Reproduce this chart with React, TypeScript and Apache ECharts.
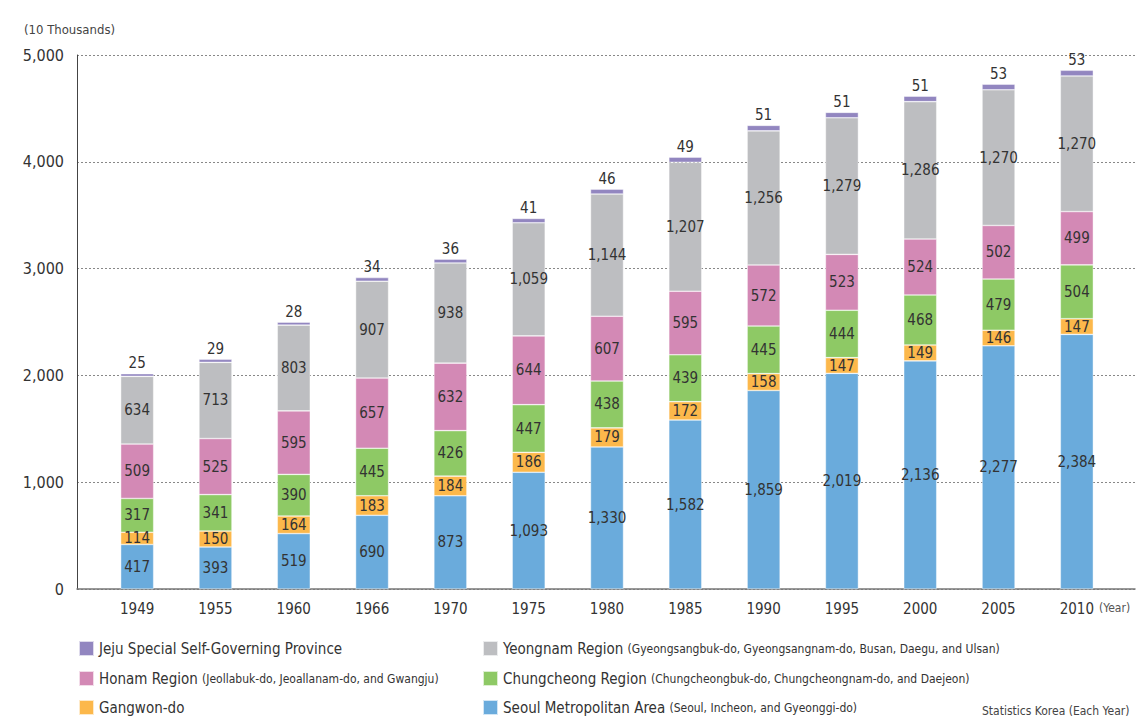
import React, { useEffect, useRef } from "react";
import * as echarts from "echarts";

const years = ["1949", "1955", "1960", "1966", "1970", "1975", "1980", "1985", "1990", "1995", "2000", "2005", "2010"];
const seoul = [417, 393, 519, 690, 873, 1093, 1330, 1582, 1859, 2019, 2136, 2277, 2384];
const gangwon = [114, 150, 164, 183, 184, 186, 179, 172, 158, 147, 149, 146, 147];
const chungcheong = [317, 341, 390, 445, 426, 447, 438, 439, 445, 444, 468, 479, 504];
const honam = [509, 525, 595, 657, 632, 644, 607, 595, 572, 523, 524, 502, 499];
const yeongnam = [634, 713, 803, 907, 938, 1059, 1144, 1207, 1256, 1279, 1286, 1270, 1270];
const jeju = [25, 29, 28, 34, 36, 41, 46, 49, 51, 51, 51, 53, 53];

const FONT = "'Liberation Sans Narrow', 'DejaVu Sans Condensed', 'Roboto Condensed', sans-serif";

const seriesDefs = [
  { name: "Seoul Metropolitan Area", sub: "(Seoul, Incheon, and Gyeonggi-do)", data: seoul, color: "#6aabdc" },
  { name: "Gangwon-do", sub: "", data: gangwon, color: "#fcb84b" },
  { name: "Chungcheong Region", sub: "(Chungcheongbuk-do, Chungcheongnam-do, and Daejeon)", data: chungcheong, color: "#8ec965" },
  { name: "Honam Region", sub: "(Jeollabuk-do, Jeoallanam-do, and Gwangju)", data: honam, color: "#d389b5" },
  { name: "Yeongnam Region", sub: "(Gyeongsangbuk-do, Gyeongsangnam-do, Busan, Daegu, and Ulsan)", data: yeongnam, color: "#bdbec1" },
  { name: "Jeju Special Self-Governing Province", sub: "", data: jeju, color: "#9286c0" },
];

// legend placement: [series name, column, row]
const legendLayout: [string, number, number][] = [
  ["Jeju Special Self-Governing Province", 0, 0],
  ["Yeongnam Region", 1, 0],
  ["Honam Region", 0, 1],
  ["Chungcheong Region", 1, 1],
  ["Gangwon-do", 0, 2],
  ["Seoul Metropolitan Area", 1, 2],
];

const fmt = (v: number) => v.toLocaleString("en-US");

export default function App() {
  const ref = useRef<HTMLDivElement>(null);
  useEffect(() => {
    if (!ref.current) return;
    const chart = echarts.init(ref.current, null, { renderer: "svg" });
    const subMap: Record<string, string> = {};
    seriesDefs.forEach((s) => (subMap[s.name] = s.sub));
    const legendText = {
      fontFamily: FONT,
      fontSize: 15,
      color: "#333",
      rich: {
        a: { fontFamily: FONT, fontSize: 15, color: "#333" },
        b: { fontFamily: FONT, fontSize: 12, color: "#333" },
      },
    };
    const legendFormatter = (name: string) => {
      const sub = subMap[name];
      return sub ? `{a|${name}} {b|${sub}}` : `{a|${name}}`;
    };
    const colX = [78, 482];
    const rowY = [640, 670, 699];
    chart.setOption({
      animation: false,
      textStyle: { fontFamily: FONT },
      grid: [
        { left: 77, right: 3, top: 55, bottom: 132 },
        { left: 98, right: 22, top: 55, bottom: 132 },
      ],
      xAxis: [
        {
          type: "category",
          gridIndex: 0,
          data: [""],
          axisLine: { show: true, lineStyle: { color: "#777", width: 1.5 } },
          axisTick: { show: false },
          axisLabel: { show: false },
        },
        {
          type: "category",
          gridIndex: 1,
          data: years,
          axisLine: { show: false },
          axisTick: { show: false },
          axisLabel: { color: "#333", fontSize: 15, fontFamily: FONT, margin: 12 },
        },
      ],
      yAxis: [
        {
          type: "value",
          gridIndex: 0,
          min: 0,
          max: 5000,
          interval: 1000,
          axisLine: { show: true, lineStyle: { color: "#444", width: 1 } },
          axisTick: { show: false },
          axisLabel: { color: "#333", fontSize: 16, fontFamily: FONT, margin: 13, formatter: (v: number) => fmt(v) },
          splitLine: { show: true, lineStyle: { color: "#888", type: [2, 2], width: 1 } },
        },
        {
          type: "value",
          gridIndex: 1,
          min: 0,
          max: 5000,
          interval: 1000,
          show: false,
          splitLine: { show: false },
        },
      ],
      legend: legendLayout.map(([name, c, r]) => ({
        left: colX[c],
        top: rowY[r],
        padding: 0,
        itemWidth: 15,
        itemHeight: 15,
        itemGap: 4,
        icon: "rect",
        selectedMode: false,
        data: [name],
        textStyle: legendText,
        formatter: legendFormatter,
      })),
      graphic: [
        { type: "text", left: 24, top: 23, style: { text: "(10 Thousands)", fill: "#444", font: `13px ${FONT}` } },
        { type: "text", left: 1099, top: 602, style: { text: "(Year)", fill: "#555", font: `12px ${FONT}` } },
        { type: "text", left: 982, top: 705, style: { text: "Statistics Korea (Each Year)", fill: "#444", font: `12px ${FONT}` } },
      ],
      series: seriesDefs.map((s, i) => ({
        name: s.name,
        type: "bar",
        stack: "total",
        xAxisIndex: 1,
        yAxisIndex: 1,
        barWidth: 33,
        data: s.data,
        itemStyle: { color: s.color, borderColor: "rgba(255,255,255,0.7)", borderWidth: 0.6 },
        label: {
          show: true,
          position: i === 5 ? "top" : "inside",
          distance: 3,
          color: "#333",
          fontSize: 15,
          fontFamily: FONT,
          formatter: (p: any) => fmt(p.value),
        },
      })),
    });
    return () => chart.dispose();
  }, []);
  return <div ref={ref} style={{ width: 1138, height: 721, position: "absolute", left: 0, top: 0 }} />;
}
